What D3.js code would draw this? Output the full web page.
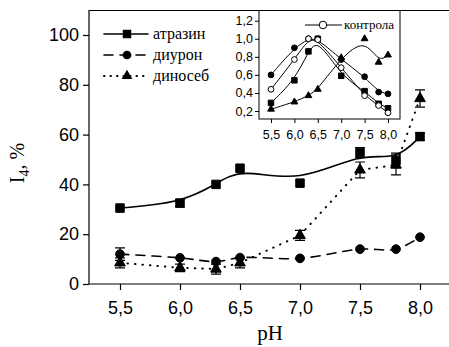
<!DOCTYPE html>
<html>
<head>
<meta charset="utf-8">
<script src="https://cdn.jsdelivr.net/npm/d3@7"></script>
<style>
body { margin: 0; background: #fff; }
svg { display: block; }
.serif { font-family: "Liberation Serif", "DejaVu Serif", "Times New Roman", serif; }
.sans { font-family: "Liberation Sans", Arial, sans-serif; }
</style>
</head>
<body>
<svg id="chart" width="449" height="347"></svg>
<script>
// main chart data
var ph = [5.5, 6.0, 6.3, 6.5, 7.0, 7.5, 7.8, 8.0];
var atrazine = [30.5, 32.5, 40, 46.5, 40.5, 52.8, 49.6, 59.2];
var atrazineErr = [0, 1.5, 0, 0, 0, 2, 3, 1.5];
var diuron = [12, 10.5, 9, 10.6, 10.3, 14, 14, 18.8];
var diuronErr = [2.5, 0, 0, 0, 0, 0, 0, 0];
var dinoseb = [8.5, 6.5, 6, 8.5, 19.5, 45.8, 47.8, 74.5];
var dinosebErr = [2, 1.5, 2, 2, 2, 3.2, 4, 3.5];
var seriesNames = ["атразин", "диурон", "диносеб"];
var xTicks = [5.5, 6.0, 6.5, 7.0, 7.5, 8.0];
var yTicks = [0, 20, 40, 60, 80, 100];

// inset data (relative units)
var inControl = [0.44, 0.77, 1.0, 0.99, 0.68, 0.37, 0.26, 0.18];
var inAtrazine = [0.29, 0.54, 0.86, 1.0, 0.59, 0.42, 0.28, 0.23];
var inDiuron = [0.6, 0.9, 1.0, 1.0, 0.77, 0.58, 0.41, 0.39];
var inDinoseb = [0.22, 0.3, 0.37, 0.44, 0.79, 1.0, 0.74, 0.82];
var inYTicks = [0.2, 0.4, 0.6, 0.8, 1.0, 1.2];

var fmt = function(d) { return d3.format(".1f")(d).replace(".", ","); };

var svg = d3.select("#chart");
var x = d3.scaleLinear().domain([5.5, 8]).range([120, 420]);
var y = d3.scaleLinear().domain([0, 100]).range([284, 35]);

// frame (left, top, bottom) - right side is cut off
var frame = svg.append("g").attr("stroke", "#000").attr("stroke-width", 1.2).attr("fill", "none");
frame.append("path").attr("d", "M89,284V10.5H449");
frame.append("path").attr("d", "M89,284H449");

var xAxis = svg.append("g").attr("transform", "translate(0,284)")
  .call(d3.axisBottom(x).tickValues(xTicks).tickSize(6).tickFormat(fmt));
xAxis.select(".domain").remove();
xAxis.selectAll("text").attr("dy", "1.15em");
var yAxis = svg.append("g").attr("transform", "translate(89,0)")
  .call(d3.axisLeft(y).tickValues(yTicks).tickSize(6));
yAxis.select(".domain").remove();
svg.selectAll("g.tick line").attr("stroke-width", 1.2);
svg.selectAll("g.tick text").attr("class", "sans").attr("font-family", null).attr("font-size", 18).attr("fill", "#000");
yAxis.selectAll("text").attr("x", -10);

svg.append("text").attr("class", "serif").attr("x", 270).attr("y", 340).attr("text-anchor", "middle")
  .attr("font-size", 21).text("pH");

var yl = svg.append("text").attr("class", "serif").attr("transform", "translate(24,163) rotate(-90)")
  .attr("text-anchor", "middle").attr("font-size", 20);
yl.append("tspan").text("I");
yl.append("tspan").attr("font-size", 14).attr("dy", 5).text("4");
yl.append("tspan").attr("dy", -5).text(", %");

function pts(vals) { return ph.map(function(p, i) { return [p, vals[i]]; }); }

function drawSeries(g, sx, sy, vals, curve, dash, width) {
  var line = d3.line().x(function(d) { return sx(d[0]); }).y(function(d) { return sy(d[1]); }).curve(curve);
  g.append("path").attr("d", line(pts(vals))).attr("fill", "none").attr("stroke", "#000")
    .attr("stroke-width", width).attr("stroke-dasharray", dash).attr("stroke-linecap", "round");
}

function drawMarkers(g, sx, sy, vals, shape, size, fill) {
  g.selectAll(null).data(pts(vals)).enter().append("path")
    .attr("transform", function(d) { return "translate(" + sx(d[0]) + "," + sy(d[1]) + ")"; })
    .attr("d", d3.symbol().type(shape).size(size))
    .attr("fill", fill).attr("stroke", "#000").attr("stroke-width", 1);
}

function drawErr(g, vals, errs) {
  ph.forEach(function(p, i) {
    if (!errs[i]) return;
    var cx = x(p), y0 = y(vals[i] - errs[i]), y1 = y(vals[i] + errs[i]);
    g.append("path").attr("d", "M" + cx + "," + y0 + "V" + y1 + "M" + (cx - 5) + "," + y0 + "H" + (cx + 5) + "M" + (cx - 5) + "," + y1 + "H" + (cx + 5))
      .attr("stroke", "#000").attr("stroke-width", 1.2).attr("fill", "none");
  });
}

var main = svg.append("g");
drawSeries(main, x, y, atrazine, d3.curveBasis, null, 1.6);
drawSeries(main, x, y, diuron, d3.curveCatmullRom, "9,7", 1.6);
drawSeries(main, x, y, dinoseb, d3.curveLinear, "0.5,7", 2);
drawErr(main, atrazine, atrazineErr);
drawErr(main, diuron, diuronErr);
drawErr(main, dinoseb, dinosebErr);
drawMarkers(main, x, y, atrazine, d3.symbolSquare, 72, "#000");
drawMarkers(main, x, y, diuron, d3.symbolCircle, 60, "#000");
drawMarkers(main, x, y, dinoseb, d3.symbolTriangle, 50, "#000");

// legend
var legend = svg.append("g");
var legShapes = [d3.symbolSquare, d3.symbolCircle, d3.symbolTriangle];
var legDash = [null, "9,7", "0.5,6"];
var legW = [1.6, 1.6, 2];
var legSize = [72, 60, 50];
seriesNames.forEach(function(name, i) {
  var ly = 34 + i * 21;
  legend.append("path").attr("d", "M104," + ly + "H148").attr("stroke", "#000")
    .attr("stroke-width", legW[i]).attr("stroke-dasharray", legDash[i]).attr("stroke-linecap", "round");
  legend.append("path").attr("transform", "translate(127," + ly + ")")
    .attr("d", d3.symbol().type(legShapes[i]).size(legSize[i]));
  legend.append("text").attr("class", "serif").attr("x", 153).attr("y", ly + 5)
    .attr("font-size", 16).text(name);
});

// inset
var xi = d3.scaleLinear().domain([5.5, 8]).range([271, 388]);
var yi = d3.scaleLinear().domain([0.2, 1.2]).range([111, 20.7]);
var inset = svg.append("g");
inset.append("rect").attr("x", 259).attr("y", 10.5).attr("width", 141).attr("height", 108.5)
  .attr("fill", "#fff").attr("stroke", "#000").attr("stroke-width", 1);
var ixa = inset.append("g").attr("transform", "translate(0,119)")
  .call(d3.axisBottom(xi).tickValues(xTicks).tickSize(4).tickFormat(fmt));
var iya = inset.append("g").attr("transform", "translate(259,0)")
  .call(d3.axisLeft(yi).tickValues(inYTicks).tickSize(4).tickFormat(fmt));
ixa.select(".domain").remove();
iya.select(".domain").remove();
inset.selectAll("g.tick text").attr("class", "sans").attr("font-family", null).attr("font-size", 12.5).attr("fill", "#000");
ixa.selectAll("text").attr("dy", "1em");
iya.selectAll("text").attr("x", -6);

drawSeries(inset, xi, yi, inControl, d3.curveBasis, null, 1);
drawSeries(inset, xi, yi, inAtrazine, d3.curveBasis, null, 1);
drawSeries(inset, xi, yi, inDiuron, d3.curveBasis, null, 1);
drawSeries(inset, xi, yi, inDinoseb, d3.curveBasis, null, 1);
drawMarkers(inset, xi, yi, inAtrazine, d3.symbolSquare, 30, "#000");
drawMarkers(inset, xi, yi, inDiuron, d3.symbolCircle, 26, "#000");
drawMarkers(inset, xi, yi, inDinoseb, d3.symbolTriangle, 20, "#000");
drawMarkers(inset, xi, yi, inControl, d3.symbolCircle, 26, "#fff");

inset.append("path").attr("d", "M305,25H342").attr("stroke", "#000").attr("stroke-width", 1);
inset.append("path").attr("transform", "translate(323,25)").attr("d", d3.symbol().type(d3.symbolCircle).size(45))
  .attr("fill", "#fff").attr("stroke", "#000");
inset.append("text").attr("class", "serif").attr("x", 344).attr("y", 29)
  .attr("font-size", 13).text("контрола");
</script>
</body>
</html>
